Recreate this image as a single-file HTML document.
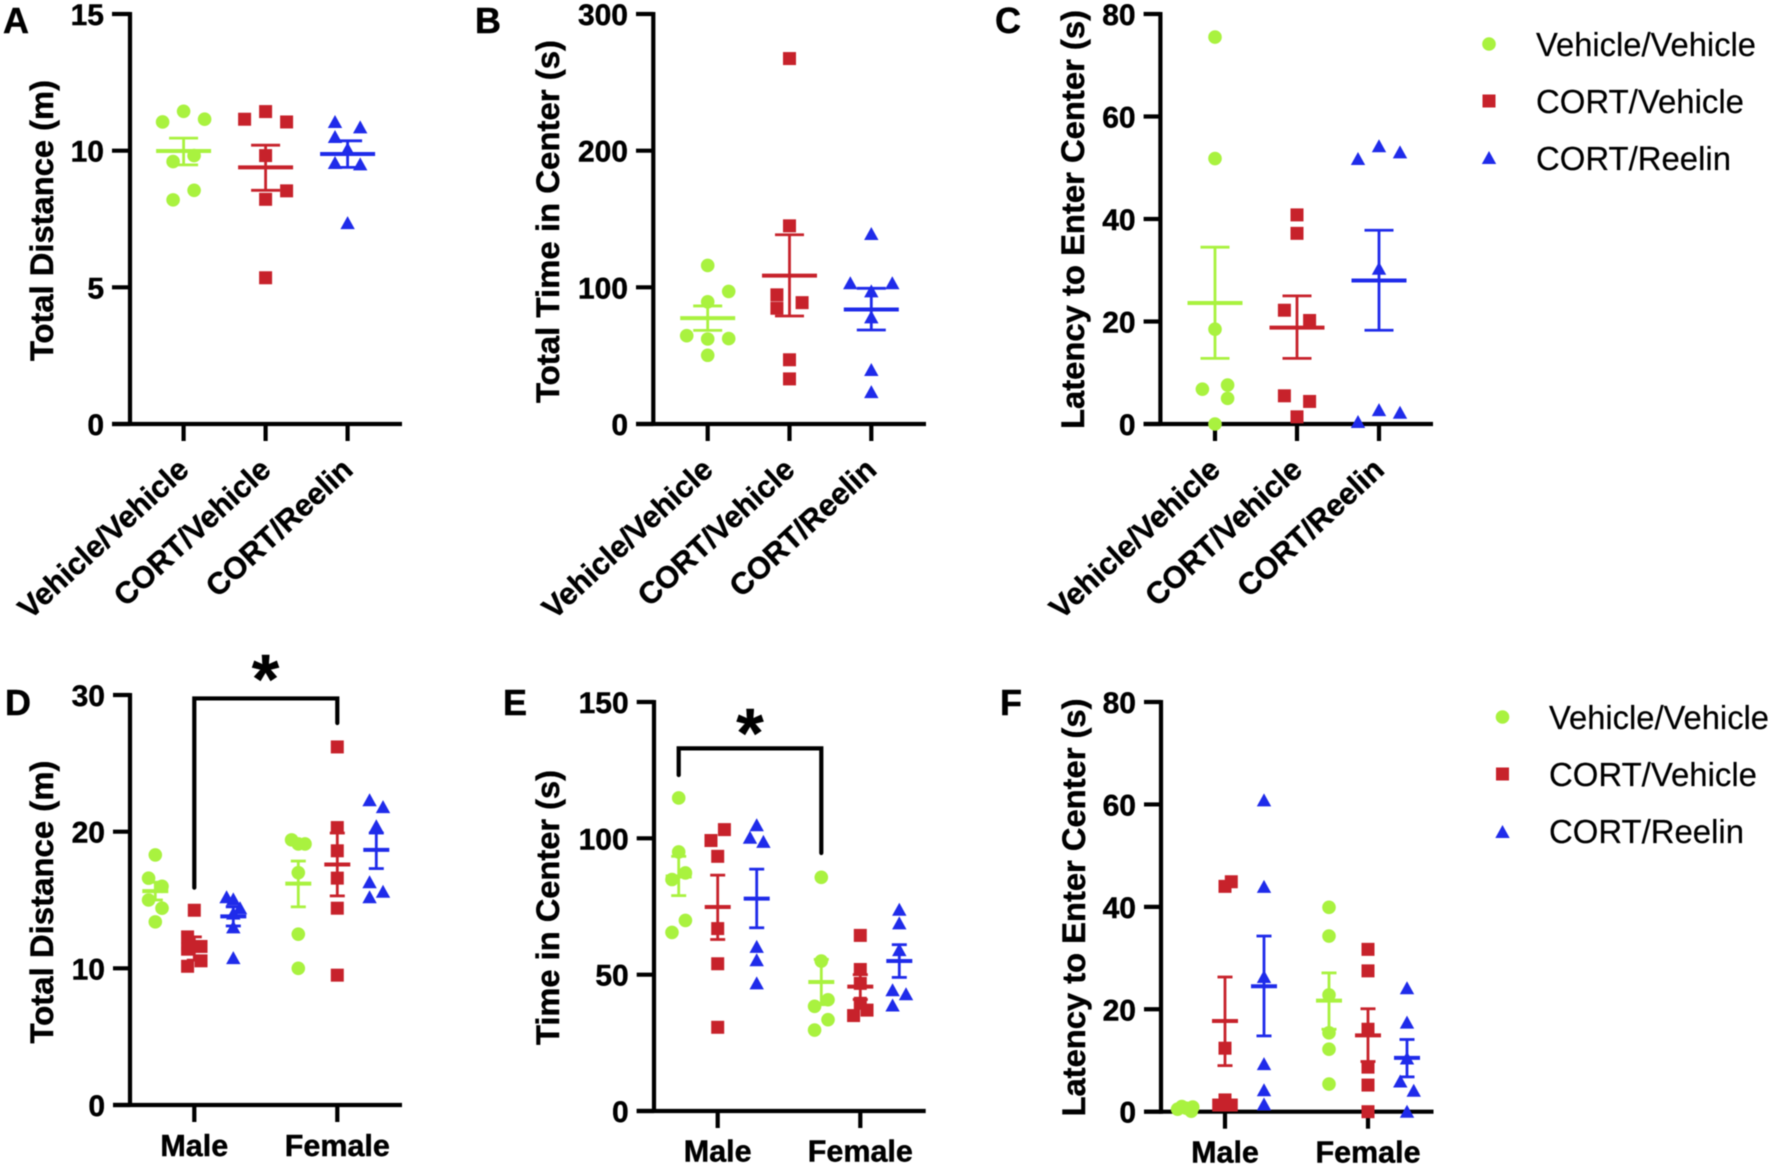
<!DOCTYPE html>
<html lang="en">
<head>
<meta charset="utf-8">
<title>Open field measures by treatment group and sex</title>
<style>
  html, body { margin: 0; padding: 0; background: #fff; }
  svg { display: block; font-family: "Liberation Sans", Arial, sans-serif; filter: blur(0.5px); }
  .bold { font-weight: 700; fill: #000; stroke: #000; stroke-width: 0.45px; }
  .legend-text { font-size: 33px; fill: #000; stroke: #000; stroke-width: 0.2px; }
</style>
</head>
<body>
<svg id="figure" xmlns="http://www.w3.org/2000/svg" width="1772" height="1168" viewBox="0 0 1772 1168">
  <rect width="1772" height="1168" fill="#fff"/>

  <g id="panel-a">
    <text class="bold" x="3" y="33" font-size="36">A</text>
    <text class="bold" font-size="32" text-anchor="middle" textLength="281" lengthAdjust="spacingAndGlyphs" transform="translate(53,220.5) rotate(-90)">Total Distance (m)</text>
  </g>
  <g id="panel-b">
    <text class="bold" x="475" y="33" font-size="36">B</text>
    <text class="bold" font-size="32" text-anchor="middle" textLength="363" lengthAdjust="spacingAndGlyphs" transform="translate(559,221.5) rotate(-90)">Total Time in Center (s)</text>
  </g>
  <g id="panel-c">
    <text class="bold" x="995" y="33" font-size="36">C</text>
    <text class="bold" font-size="32" text-anchor="middle" textLength="419" lengthAdjust="spacingAndGlyphs" transform="translate(1084,219.5) rotate(-90)">Latency to Enter Center (s)</text>
  </g>
  <g id="panel-d">
    <text class="bold" x="5" y="715" font-size="36">D</text>
    <text class="bold" font-size="32" text-anchor="middle" textLength="283" lengthAdjust="spacingAndGlyphs" transform="translate(53,902) rotate(-90)">Total Distance (m)</text>
    <text class="bold" x="265.5" y="703" font-size="70" text-anchor="middle">*</text>
  </g>
  <g id="panel-e">
    <text class="bold" x="503" y="715" font-size="36">E</text>
    <text class="bold" font-size="32" text-anchor="middle" textLength="275" lengthAdjust="spacingAndGlyphs" transform="translate(559,907.5) rotate(-90)">Time in Center (s)</text>
    <text class="bold" x="750" y="757" font-size="70" text-anchor="middle">*</text>
  </g>
  <g id="panel-f">
    <text class="bold" x="1000" y="715" font-size="36">F</text>
    <text class="bold" font-size="32" text-anchor="middle" textLength="418" lengthAdjust="spacingAndGlyphs" transform="translate(1085,907.5) rotate(-90)">Latency to Enter Center (s)</text>
  </g>

  <g id="legend-top">
    <text class="legend-text" x="1536" y="56" textLength="220" lengthAdjust="spacingAndGlyphs">Vehicle/Vehicle</text>
    <text class="legend-text" x="1536" y="113" textLength="208" lengthAdjust="spacingAndGlyphs">CORT/Vehicle</text>
    <text class="legend-text" x="1536" y="170" textLength="195" lengthAdjust="spacingAndGlyphs">CORT/Reelin</text>
  </g>
  <g id="legend-bottom">
    <text class="legend-text" x="1549" y="729" textLength="220" lengthAdjust="spacingAndGlyphs">Vehicle/Vehicle</text>
    <text class="legend-text" x="1549" y="786" textLength="208" lengthAdjust="spacingAndGlyphs">CORT/Vehicle</text>
    <text class="legend-text" x="1549" y="843" textLength="195" lengthAdjust="spacingAndGlyphs">CORT/Reelin</text>
  </g>
</svg>

<script>
// ---------- categories ----------
const treatmentLabels = ['Vehicle/Vehicle', 'CORT/Vehicle', 'CORT/Reelin'];
const sexLabels = ['Male', 'Female'];

// ---------- panel A: total distance ----------
const aTicks = [0, 5, 10, 15];
const aVehicle = [11.44, 11.15, 11.05, 9.82, 9.6, 8.55, 8.2];
const aVehicleJitter = [0, 1, -1, 0.5, -0.5, 0.5, -0.5];
const aCort = [11.43, 11.15, 11.05, 9.82, 8.53, 8.22, 5.35];
const aCortJitter = [0, -1, 1, 0, 1, 0, 0];
const aReelin = [11.05, 10.85, 10.5, 10.05, 9.55, 9.5, 7.35];
const aReelinJitter = [-0.6, 0.6, -0.6, 0, -0.6, 0.6, 0];
const aMeans = [9.99, 9.39, 9.88];
const aSemUpper = [10.46, 10.2, 10.36];
const aSemLower = [9.48, 8.55, 9.39];

// ---------- panel B: total time in center ----------
const bTicks = [0, 100, 200, 300];
const bVehicle = [116, 97, 89.4, 64.6, 62.2, 62.5, 50.3];
const bVehicleJitter = [0, 1, 0, -1, 0, 1, 0];
const bCort = [267.4, 145, 94.5, 84.7, 88.8, 47, 33];
const bCortJitter = [0, 0, -0.6, -0.6, 0.6, 0, 0];
const bReelin = [139, 103, 103, 97, 78, 39.5, 23.3];
const bReelinJitter = [0, -1, 1, 0, 0, 0, 0];
const bMeans = [77.5, 108.6, 83.8];
const bSemUpper = [86.4, 138.5, 99.3];
const bSemLower = [68.5, 79, 68.8];

// ---------- panel C: latency to enter center ----------
const cTicks = [0, 20, 40, 60, 80];
const cVehicle = [75.5, 51.8, 18.5, 7.6, 6.8, 5, 0];
const cVehicleJitter = [0, 0, 0, 0.6, -0.6, 0.6, 0];
const cCort = [40.8, 37.2, 22.2, 20.2, 5.5, 4.4, 1.4];
const cCortJitter = [0, 0, -0.6, 0.6, -0.6, 0.6, 0];
const cReelin = [54.2, 53, 51.7, 30.3, 2.7, 2.2, 0.4];
const cReelinJitter = [0, 1, -1, 0, 0, 1, -1];
const cMeans = [23.6, 18.8, 28];
const cSemUpper = [34.5, 25, 37.8];
const cSemLower = [12.8, 12.8, 18.3];

// ---------- panel D: total distance by sex ----------
const dTicks = [0, 10, 20, 30];
const dMaleVehicle = [18.3, 16.6, 16, 15, 14.4, 13.4];
const dMaleVehicleJitter = [0, -0.32, 0.32, -0.32, 0.32, 0];
const dMaleCort = [14.25, 12.3, 11.6, 11.4, 10.55, 10.15];
const dMaleCortJitter = [0, -0.32, 0.32, -0.32, 0.32, -0.32];
const dMaleReelin = [15.2, 15.05, 14.4, 14, 13, 10.75];
const dMaleReelinJitter = [-0.32, 0, 0.32, 0, 0, 0];
const dFemaleVehicle = [19.4, 19.1, 19.1, 17, 12.5, 10];
const dFemaleVehicleJitter = [-0.32, 0, 0.32, 0, 0, 0];
const dFemaleCort = [26.2, 20.3, 18.6, 16.6, 14.4, 9.5];
const dFemaleCortJitter = [0, 0, 0, 0, 0, 0];
const dFemaleReelin = [22.3, 21.8, 20.4, 16.3, 15.6, 15.2];
const dFemaleReelinJitter = [-0.32, 0.32, 0, -0.32, 0.32, -0.32];
const dMaleMeans = [15.65, 11.43, 13.8];
const dMaleSemUpper = [16.3, 12.3, 14.5];
const dMaleSemLower = [15, 10.6, 13.1];
const dFemaleMeans = [16.2, 17.6, 18.67];
const dFemaleSemUpper = [17.85, 19.9, 19.9];
const dFemaleSemLower = [14.5, 15.3, 17.3];
const dBracket = [29.75, 15.9, 27.95];

// ---------- panel E: time in center by sex ----------
const eTicks = [0, 50, 100, 150];
const eMaleVehicle = [114.8, 95, 87.3, 84.9, 69.9, 65.5];
const eMaleVehicleJitter = [0, 0, 0.32, -0.32, 0.32, -0.32];
const eMaleCort = [103.2, 99.2, 93.4, 66.9, 54, 30.7];
const eMaleCortJitter = [0.32, -0.32, 0, 0, 0, 0];
const eMaleReelin = [104.8, 100.2, 98.7, 60.2, 55.3, 46.8];
const eMaleReelinJitter = [0, -0.32, 0.32, 0, 0, 0];
const eFemaleVehicle = [85.7, 55, 40.8, 38.4, 33.5, 29.7];
const eFemaleVehicleJitter = [0, 0, 0.32, -0.32, 0.32, -0.32];
const eFemaleCort = [64.4, 51.9, 46.8, 39.5, 37, 35];
const eFemaleCortJitter = [0, 0, 0, 0, 0.32, -0.32];
const eFemaleReelin = [73.8, 68.8, 59, 44.3, 42.8, 38.7];
const eFemaleReelinJitter = [0, 0, 0, -0.32, 0.32, -0.32];
const eMaleMeans = [86, 74.8, 77.9];
const eMaleSemUpper = [93.4, 86.5, 88.7];
const eMaleSemLower = [79, 62.9, 67.2];
const eFemaleMeans = [47.3, 45.6, 55];
const eFemaleSemUpper = [55.6, 50, 61];
const eFemaleSemLower = [39, 40.9, 49];
const eBracket = [133, 123.2, 94.6];

// ---------- panel F: latency by sex ----------
const fTicks = [0, 20, 40, 60, 80];
const fMaleVehicle = [1, 0.9, 0.7, 0.6, 0.5, 0.1];
const fMaleVehicleJitter = [-0.2, 0.32, 0, 0.15, -0.4, 0.25];
const fMaleCort = [44.9, 44, 12.4, 2.3, 1.3, 1.3];
const fMaleCortJitter = [0.3, 0, 0, 0, 0.3, -0.3];
const fMaleReelin = [60.8, 43.9, 26.3, 9.3, 4.2, 1.4];
const fMaleReelinJitter = [0, 0, 0, 0, 0, 0];
const fFemaleVehicle = [39.9, 34.3, 22.8, 15.4, 12.2, 5.4];
const fFemaleVehicleJitter = [0, 0, 0, 0, 0, 0];
const fFemaleCort = [31.7, 27.5, 16.1, 8.7, 5.2, 0];
const fFemaleCortJitter = [0, 0, 0, 0, 0, 0];
const fFemaleReelin = [24.1, 17.4, 10.4, 5.9, 4.1, 0];
const fFemaleReelinJitter = [0, 0, 0, -0.32, 0.32, 0];
const fMaleMeans = [0.6, 17.7, 24.5];
const fMaleSemUpper = [0.8, 26.3, 34.3];
const fMaleSemLower = [0.4, 9, 14.8];
const fFemaleMeans = [21.7, 14.9, 10.5];
const fFemaleSemUpper = [27.1, 20.1, 14.1];
const fFemaleSemLower = [16.1, 9.8, 6.8];

// ---------- drawing ----------
const SVG_NS = 'http://www.w3.org/2000/svg';
const seriesColors = ['#a9f23f', '#c7222b', '#1f2bea'];
const seriesNames = ['vehicle-vehicle', 'cort-vehicle', 'cort-reelin'];
const JITTER_UNIT = 21;
const AXIS_WIDTH = 4.2;

function make(parent, tag, attrs) {
  const node = document.createElementNS(SVG_NS, tag);
  for (const key in attrs) node.setAttribute(key, attrs[key]);
  parent.appendChild(node);
  return node;
}

function line(parent, x1, y1, x2, y2, color, width) {
  return make(parent, 'line', { x1: x1, y1: y1, x2: x2, y2: y2, stroke: color, 'stroke-width': width });
}

function marker(parent, kind, cx, cy, color) {
  if (kind === 0) return make(parent, 'circle', { cx: cx, cy: cy, r: 6.8, fill: color });
  if (kind === 1) return make(parent, 'rect', { x: cx - 6.5, y: cy - 6.5, width: 13, height: 13, fill: color });
  return make(parent, 'polygon', {
    points: (cx - 7.2) + ',' + (cy + 6) + ' ' + (cx + 7.2) + ',' + (cy + 6) + ' ' + cx + ',' + (cy - 7),
    fill: color
  });
}

function makeYScale(layout, ticks) {
  const maxValue = ticks[ticks.length - 1];
  return function (value) {
    return layout.y0 - (value / maxValue) * (layout.y0 - layout.yTop);
  };
}

function drawAxes(group, layout, ticks, yScale) {
  const yAxis = line(group, layout.x0, layout.yTop - 2, layout.x0, layout.y0 + 2, '#000', AXIS_WIDTH);
  
  
  const xAxis = line(group, layout.tickLeft, layout.y0, layout.xEnd, layout.y0, '#000', AXIS_WIDTH);
  
  
  ticks.forEach(function (tick) {
    const y = yScale(tick);
    const tickMark = line(group, layout.tickLeft, y, layout.x0, y, '#000', AXIS_WIDTH);
    
    
    const label = make(group, 'text', {
      x: layout.tickLeft - 8, y: y + 11, 'text-anchor': 'end', 'font-size': 30, class: 'bold'
    });
    label.textContent = String(tick);
    
    
  });
}

function drawXTick(group, layout, x) {
  const xTick = line(group, x, layout.y0, x, layout.y0 + 17, '#000', AXIS_WIDTH);
  
  
}

function drawSeries(group, seriesIndex, centerX, values, jitter, mean, upper, lower, yScale, meanHalf, capHalf) {
  const color = seriesColors[seriesIndex];
  const seriesGroup = make(group, 'g', {});
  
  
  values.forEach(function (value, i) {
    const point = marker(seriesGroup, seriesIndex, centerX + jitter[i] * JITTER_UNIT, yScale(value), color);
    
    
  });
  const meanLine = line(seriesGroup, centerX - meanHalf, yScale(mean), centerX + meanHalf, yScale(mean), color, 4);
  
  
  const stem = line(seriesGroup, centerX, yScale(upper), centerX, yScale(lower), color, 2.8);
  
  
  const capTop = line(seriesGroup, centerX - capHalf, yScale(upper), centerX + capHalf, yScale(upper), color, 2.8);
  
  
  const capBottom = line(seriesGroup, centerX - capHalf, yScale(lower), centerX + capHalf, yScale(lower), color, 2.8);
  
  
}

function drawTreatmentPanel(id, layout, ticks, series, jitters, means, upper, lower) {
  const group = document.getElementById(id);
  const yScale = makeYScale(layout, ticks);
  drawAxes(group, layout, ticks, yScale);
  treatmentLabels.forEach(function (name, i) {
    const x = layout.first + i * layout.step;
    drawXTick(group, layout, x);
    const label = make(group, 'text', {
      'text-anchor': 'end', 'font-size': 30.5, class: 'bold',
      transform: 'translate(' + (x + 7) + ',' + (layout.y0 + 48) + ') rotate(-42.7)'
    });
    label.textContent = name;
    
    
    drawSeries(group, i, x, series[i], jitters[i], means[i], upper[i], lower[i], yScale, 27.5, 14.5);
  });
}

function drawSexPanel(id, layout, ticks, sexSeries, sexJitters, sexMeans, sexUpper, sexLower, bracket) {
  const group = document.getElementById(id);
  const yScale = makeYScale(layout, ticks);
  drawAxes(group, layout, ticks, yScale);
  sexLabels.forEach(function (name, s) {
    const x = layout.first + s * layout.step;
    drawXTick(group, layout, x);
    const label = make(group, 'text', {
      x: x, y: layout.labelY, 'text-anchor': 'middle', 'font-size': 30.5, class: 'bold'
    });
    label.textContent = name;
    
    
    for (let i = 0; i < 3; i++) {
      drawSeries(group, i, x + (i - 1) * 39, sexSeries[s][i], sexJitters[s][i],
        sexMeans[s][i], sexUpper[s][i], sexLower[s][i], yScale, 13, 7.5);
    }
  });
  if (bracket) {
    const left = layout.first + layout.bracketOffset;
    const right = layout.first + layout.step + layout.bracketOffset;
    const path = make(group, 'path', {
      d: 'M' + left + ' ' + yScale(bracket[1]) + ' V' + yScale(bracket[0]) + ' H' + right + ' V' + yScale(bracket[2]),
      fill: 'none', stroke: '#000', 'stroke-width': 4.2, 'stroke-linecap': 'round'
    });
    
    
  }
}

function drawLegend(id, x, rowYs) {
  const group = document.getElementById(id);
  rowYs.forEach(function (y, i) {
    const swatch = marker(group, i, x, y, seriesColors[i]);
    
    
  });
}

drawTreatmentPanel('panel-a',
  { x0: 130, tickLeft: 112, xEnd: 402, y0: 424, yTop: 14, first: 183.6, step: 82 },
  aTicks, [aVehicle, aCort, aReelin], [aVehicleJitter, aCortJitter, aReelinJitter], aMeans, aSemUpper, aSemLower);
drawTreatmentPanel('panel-b',
  { x0: 653.3, tickLeft: 636, xEnd: 926, y0: 424, yTop: 14, first: 707.7, step: 81.8 },
  bTicks, [bVehicle, bCort, bReelin], [bVehicleJitter, bCortJitter, bReelinJitter], bMeans, bSemUpper, bSemLower);
drawTreatmentPanel('panel-c',
  { x0: 1160.4, tickLeft: 1143.6, xEnd: 1433, y0: 424, yTop: 14, first: 1215, step: 82 },
  cTicks, [cVehicle, cCort, cReelin], [cVehicleJitter, cCortJitter, cReelinJitter], cMeans, cSemUpper, cSemLower);

drawSexPanel('panel-d',
  { x0: 130, tickLeft: 113, xEnd: 402, y0: 1105, yTop: 695, first: 194.3, step: 143, labelY: 1156, bracketOffset: 0 },
  dTicks,
  [[dMaleVehicle, dMaleCort, dMaleReelin], [dFemaleVehicle, dFemaleCort, dFemaleReelin]],
  [[dMaleVehicleJitter, dMaleCortJitter, dMaleReelinJitter], [dFemaleVehicleJitter, dFemaleCortJitter, dFemaleReelinJitter]],
  [dMaleMeans, dFemaleMeans], [dMaleSemUpper, dFemaleSemUpper], [dMaleSemLower, dFemaleSemLower], dBracket);
drawSexPanel('panel-e',
  { x0: 654, tickLeft: 636.7, xEnd: 925.7, y0: 1111, yTop: 702, first: 717.7, step: 142.6, labelY: 1161.5, bracketOffset: -39 },
  eTicks,
  [[eMaleVehicle, eMaleCort, eMaleReelin], [eFemaleVehicle, eFemaleCort, eFemaleReelin]],
  [[eMaleVehicleJitter, eMaleCortJitter, eMaleReelinJitter], [eFemaleVehicleJitter, eFemaleCortJitter, eFemaleReelinJitter]],
  [eMaleMeans, eFemaleMeans], [eMaleSemUpper, eFemaleSemUpper], [eMaleSemLower, eFemaleSemLower], eBracket);
drawSexPanel('panel-f',
  { x0: 1161, tickLeft: 1144, xEnd: 1433.5, y0: 1111.7, yTop: 702, first: 1225, step: 143, labelY: 1162.5, bracketOffset: 0 },
  fTicks,
  [[fMaleVehicle, fMaleCort, fMaleReelin], [fFemaleVehicle, fFemaleCort, fFemaleReelin]],
  [[fMaleVehicleJitter, fMaleCortJitter, fMaleReelinJitter], [fFemaleVehicleJitter, fFemaleCortJitter, fFemaleReelinJitter]],
  [fMaleMeans, fFemaleMeans], [fMaleSemUpper, fFemaleSemUpper], [fMaleSemLower, fFemaleSemLower], null);

drawLegend('legend-top', 1489, [44, 101, 158]);
drawLegend('legend-bottom', 1502.5, [717, 774, 832]);
</script>
</body>
</html>
